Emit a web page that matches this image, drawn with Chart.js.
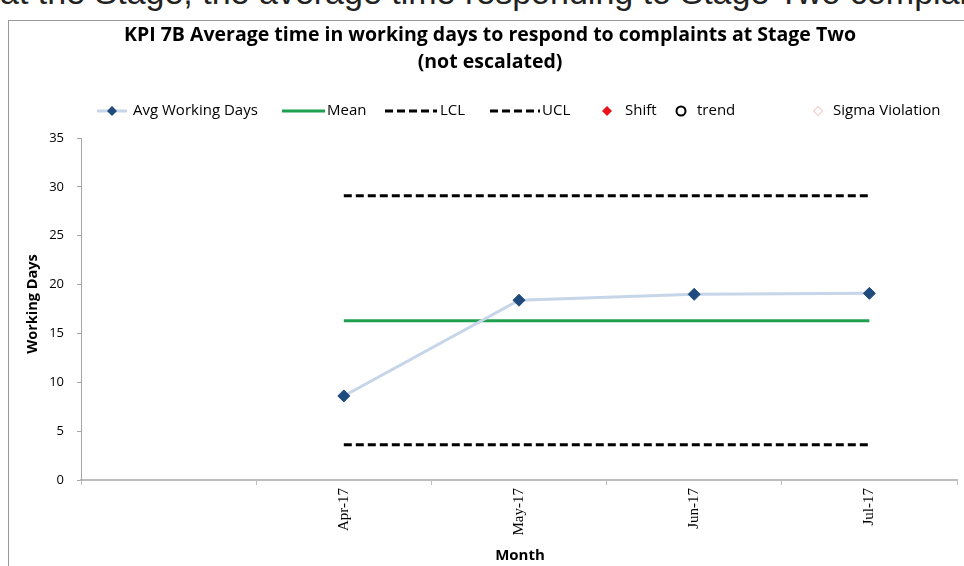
<!DOCTYPE html>
<html>
<head>
<meta charset="utf-8">
<script src="https://cdn.jsdelivr.net/npm/chart.js@4.4.0/dist/chart.umd.min.js"></script>
<style>
  body { margin: 0; background: #fff; }
  #wrap { position: relative; width: 964px; height: 566px; overflow: hidden; }
  #doc { position: absolute; left: 0; top: -27px; font: 34px "Liberation Sans", Arial, sans-serif; color: #222; white-space: nowrap; }
  #frame { position: absolute; left: 8px; top: 20px; width: 1000px; height: 600px; border-left: 1px solid #9a9a9a; border-top: 1px solid #9a9a9a; background: #fff; }
  canvas { position: absolute; left: 0; top: 0; }
</style>
</head>
<body>
<div id="wrap">
  <div id="doc">at the Stage, the average time responding to Stage Two complaints within the</div>
  <div id="frame"></div>
  <canvas id="grafico" width="964" height="566"></canvas>
</div>
<script>
// dados do grafico
const meses      = ['', 'Apr-17', 'May-17', 'Jun-17', 'Jul-17'];
const mediaDias  = [null, 8.6, 18.4, 19.0, 19.1];
const media      = [null, 16.3, 16.3, 16.3, 16.3];
const lcl        = [null, 3.6, 3.6, 3.6, 3.6];
const ucl        = [null, 29.1, 29.1, 29.1, 29.1];
const shift      = [null, null, null, null, null];
const trend      = [null, null, null, null, null];
const sigma      = [null, null, null, null, null];
const yTicks     = [0, 5, 10, 15, 20, 25, 30, 35];

const tituloLinhas = ['KPI 7B Average time in working days to respond to complaints at Stage Two', '(not escalated)'];
const fonte = '"Open Sans", Lato, sans-serif';

// titulo, legenda e titulos dos eixos
const decoracao = {
  id: 'decoracao',
  afterDraw(chart) {
    const ctx = chart.ctx;
    ctx.save();
    ctx.fillStyle = '#000';
    ctx.textAlign = 'center';
    ctx.textBaseline = 'middle';
    ctx.font = 'bold 19.5px ' + fonte;
    ctx.fillText(tituloLinhas[0], 490, 35);
    ctx.fillText(tituloLinhas[1], 490, 62);

    // legenda
    const y = 111;
    ctx.font = '15px ' + fonte;
    ctx.textAlign = 'left';
    const linha = (x1, x2, cor, dash) => {
      ctx.beginPath();
      ctx.setLineDash(dash || []);
      ctx.strokeStyle = cor;
      ctx.lineWidth = 3;
      ctx.moveTo(x1, y); ctx.lineTo(x2, y);
      ctx.stroke();
      ctx.setLineDash([]);
    };
    const losango = (x, r, fill, stroke) => {
      ctx.beginPath();
      ctx.moveTo(x, y - r); ctx.lineTo(x + r, y); ctx.lineTo(x, y + r); ctx.lineTo(x - r, y); ctx.closePath();
      if (fill) { ctx.fillStyle = fill; ctx.fill(); }
      if (stroke) { ctx.strokeStyle = stroke; ctx.lineWidth = 1; ctx.stroke(); }
    };
    linha(97, 127, '#c6d5e8');
    losango(112, 5, '#1f4a7e');
    ctx.fillStyle = '#000';
    ctx.fillText('Avg Working Days', 133, y);
    linha(282, 325, '#1fa04f');
    ctx.fillStyle = '#000';
    ctx.fillText('Mean', 327, y);
    linha(385, 437, '#000', [8, 4]);
    ctx.fillText('LCL', 440, y);
    linha(490, 540, '#000', [8, 4]);
    ctx.fillText('UCL', 542, y);
    losango(607, 5, '#e8141b');
    ctx.fillStyle = '#000';
    ctx.fillText('Shift', 625, y);
    ctx.beginPath();
    ctx.arc(681, y, 4.5, 0, Math.PI * 2);
    ctx.strokeStyle = '#000'; ctx.lineWidth = 2; ctx.stroke();
    ctx.fillText('trend', 697, y);
    losango(818, 4.5, null, '#f0b0a8');
    ctx.fillStyle = '#000';
    ctx.fillText('Sigma Violation', 833, y);

    // titulos dos eixos
    ctx.font = 'bold 15px ' + fonte;
    ctx.textAlign = 'center';
    ctx.fillText('Month', 520, 556);
    ctx.translate(33, 304);
    ctx.rotate(-Math.PI / 2);
    ctx.font = 'bold 14.5px ' + fonte;
    ctx.fillText('Working Days', 0, 0);
    ctx.restore();
  }
};

new Chart(document.getElementById('grafico'), {
  type: 'line',
  data: {
    labels: meses,
    datasets: [
      {
        label: 'Avg Working Days',
        data: mediaDias,
        borderColor: '#c6d5e8',
        borderWidth: 3,
        pointStyle: 'rectRot',
        pointRadius: 6,
        pointBackgroundColor: '#1f4a7e',
        pointBorderColor: '#1f4a7e',
        pointBorderWidth: 1,
        tension: 0,
        order: 0
      },
      { label: 'Mean', data: media, borderColor: '#1fa04f', borderWidth: 3, pointRadius: 0, order: 1 },
      { label: 'LCL', data: lcl, borderColor: '#000', borderWidth: 3, borderDash: [8, 4], pointRadius: 0, order: 2 },
      { label: 'UCL', data: ucl, borderColor: '#000', borderWidth: 3, borderDash: [8, 4], pointRadius: 0, order: 2 },
      { label: 'Shift', data: shift, showLine: false, pointStyle: 'rectRot', pointBackgroundColor: '#e8141b' },
      { label: 'trend', data: trend, showLine: false, pointStyle: 'circle', pointBorderColor: '#000' },
      { label: 'Sigma Violation', data: sigma, showLine: false, pointStyle: 'rectRot', pointBorderColor: '#f0b0a8' }
    ]
  },
  options: {
    responsive: false,
    animation: false,
    layout: { padding: { left: 0, right: 2, top: 138, bottom: 0 } },
    plugins: { legend: { display: false }, title: { display: false }, tooltip: { enabled: false } },
    scales: {
      x: {
        offset: true,
        afterFit: s => { s.height = 86; },
        border: { color: '#bdbdbd', width: 2 },
        grid: { offset: true, drawOnChartArea: false, tickLength: 5, color: '#bdbdbd', tickWidth: 1 },
        ticks: { minRotation: 90, maxRotation: 90, padding: 3, color: '#000', font: { family: '"Liberation Serif", serif', size: 15 } }
      },
      y: {
        min: 0,
        max: 35,
        afterFit: s => { s.width = 81; },
        afterBuildTicks: s => { s.ticks = yTicks.map(v => ({ value: v })); },
        border: { color: '#a6a6a6', width: 1 },
        grid: { drawOnChartArea: false, tickLength: 4, color: '#a6a6a6' },
        ticks: { padding: 13, color: '#000', font: { family: fonte, size: 13 } }
      }
    }
  },
  plugins: [decoracao]
});
</script>
</body>
</html>
